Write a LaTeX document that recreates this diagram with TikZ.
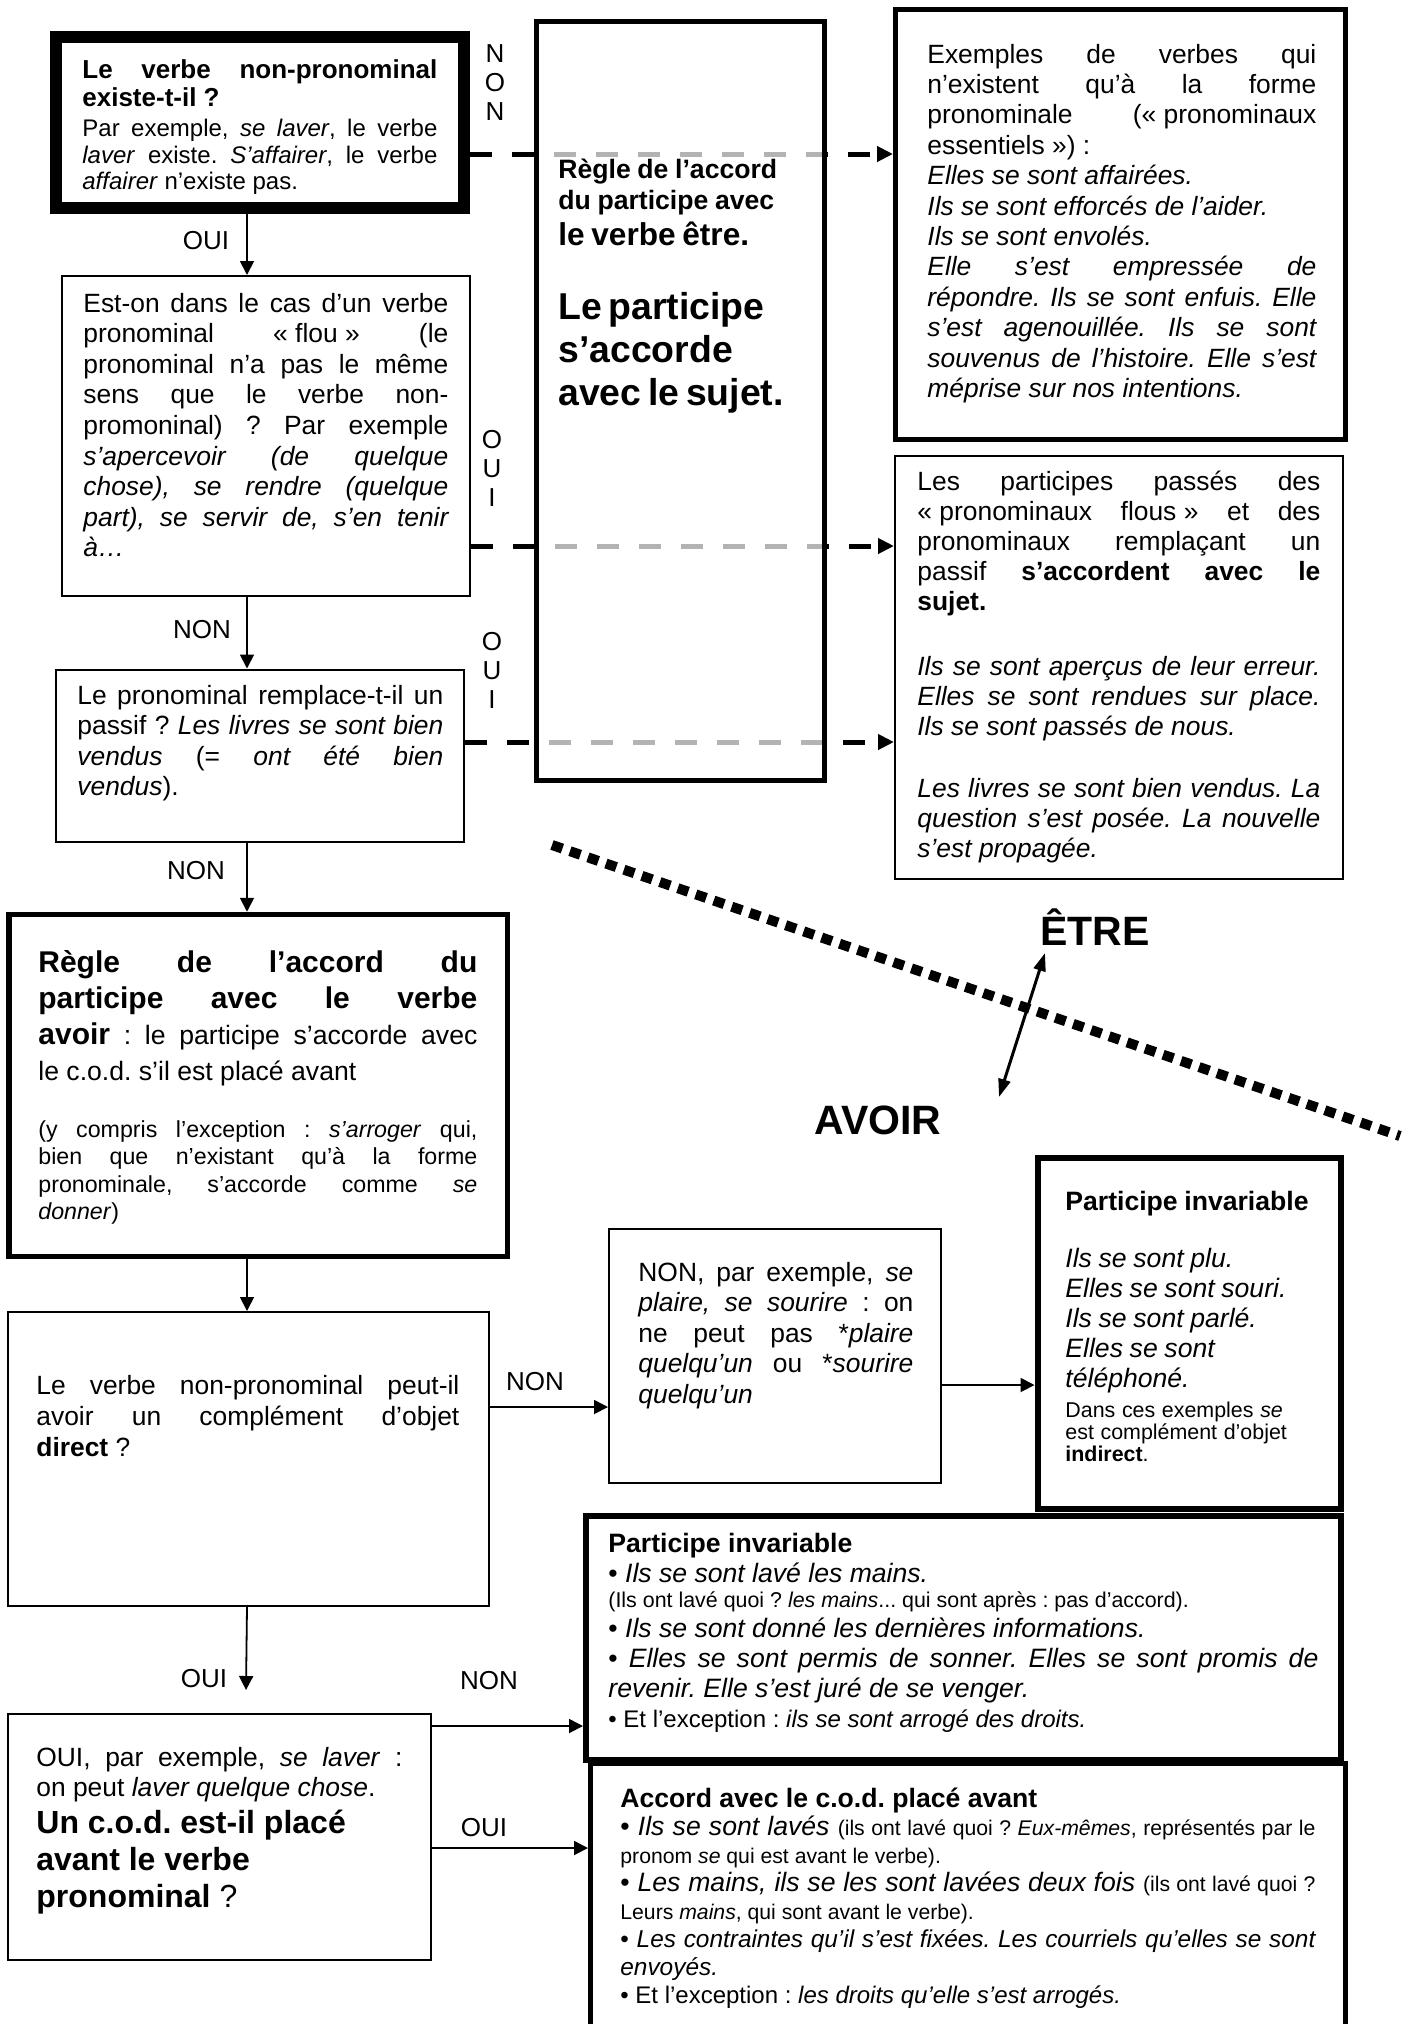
\documentclass[tikz,border=0pt]{standalone}
\usepackage{fontspec}
\setmainfont{Liberation Sans}
\usetikzlibrary{arrows.meta,fit}
\newcommand\fsz[2]{\fontsize{#1}{#2}\selectfont}
\newcommand\fq{\nobreak\hspace{0.28em}\nobreak}
\hyphenpenalty=10000
\exhyphenpenalty=10000
\tolerance=9999
\frenchspacing
\begin{document}
\begin{tikzpicture}[x=0.5pt,y=-0.5pt,
  bx/.style={draw, inner sep=0pt, rectangle},
  thinbox/.style={bx, line width=1pt},
  txt/.style={inner sep=0pt, anchor=base west, align=justify},
  txtl/.style={inner sep=0pt, anchor=base west, align=left},
  arr/.style={line width=0.9pt, -{Triangle[length=7pt,width=7pt]}},
  darr/.style={line width=2.5pt, dash pattern=on 11pt off 10pt, -{Triangle[length=8pt,width=7.5pt]}},
  lbl/.style={inner sep=0pt, font=\fsz{13}{14.5}, align=center},
  bigword/.style={inner sep=0pt, font=\fsz{20.5}{24}\bfseries},
]
\useasboundingbox (0,0) rectangle (1412,2024);
\fill[white] (0,0) rectangle (1412,2024);

% ---------- top left question
\node[bx, line width=6pt, fit={(56,37) (464,208)}] (A) {};
\node[txt, text width=177.5pt] (Atx) at (82,78) {\fsz{13}{14}\bfseries Le verbe non-pronominal \linebreak existe-t-il ?\par\vspace{2.2pt}\fsz{12}{13.25}\mdseries Par exemple, \textit{se laver}, le verbe \linebreak \textit{laver} existe. \textit{S’affairer}, le verbe \linebreak \textit{affairer} n’existe pas.\par};

\node[thinbox, fit={(62,276) (470,596)}] (L2) {};
\node[txt, text width=182.5pt] (L2tx) at (83,312) {\fsz{13.2}{15.3}Est-on dans le cas d’un verbe \linebreak pronominal «\fq flou\fq» (le \linebreak pronominal n’a pas le même \linebreak sens que le verbe non-\linebreak promoninal)~? Par exemple \linebreak \textit{s’apercevoir (de quelque \linebreak chose), se rendre (quelque \linebreak part), se servir de, s’en tenir \linebreak à…}\par};

\node[thinbox, fit={(56,669.5) (464,842)}] (L3) {};
\node[txt, text width=183pt] (L3tx) at (77,704) {\fsz{13.2}{15.3}Le pronominal remplace-t-il un \linebreak passif~? \textit{Les livres se sont bien} \linebreak \textit{vendus} (= \textit{ont été bien} \linebreak \textit{vendus}).\par};

% ---------- right boxes (être)
\node[bx, line width=2.5pt, fit={(895.5,9.5) (1345.5,439.5)}] (R1) {};
\node[txt, text width=194.5pt] (R1tx) at (927,63) {\fsz{13.2}{15.2}Exemples de verbes qui \linebreak n’existent qu’à la forme \linebreak pronominale («\fq pronominaux \linebreak essentiels\fq») :\par\itshape Elles se sont affairées.\par Ils se sont efforcés de l’aider.\par Ils se sont envolés.\par Elle s’est empressée de \linebreak répondre. Ils se sont enfuis. Elle \linebreak s’est agenouillée. Ils se sont \linebreak souvenus de l’histoire. Elle s’est \linebreak méprise sur nos intentions.\par};

\node[thinbox, fit={(895,456) (1343,879)}] (R2) {};
\node[txt, text width=201.5pt] (R2tx) at (917,490) {\fsz{13.2}{15}Les participes passés des \linebreak «\fq pronominaux flous\fq» et des \linebreak pronominaux remplaçant un \linebreak passif \textbf{s’accordent avec le \linebreak sujet.}\par\vspace{17.5pt}\itshape Ils se sont aperçus de leur erreur. \linebreak Elles se sont rendues sur place. \linebreak Ils se sont passés de nous.\par\vspace{16pt}Les livres se sont bien vendus. La \linebreak question s’est posée. La nouvelle \linebreak s’est propagée.\par};

% ---------- dashed connectors through the middle box
\coordinate (ya) at (0,154);
\coordinate (yb) at (0,546);
\coordinate (yc) at (0,742);
\draw[darr] (A.east |- ya) -- (R1.west |- ya);
\draw[darr] (L2.east |- yb) -- (R2.west |- yb);
\draw[darr] (L3.east |- yc) -- (R2.west |- yc);

\node[bx, line width=2.5pt, fill=white, fill opacity=0.7, fit={(536.5,21.5) (824.5,780)}] (M) {};
\node[txtl, text width=132.5pt] (Mtx) at (558,178) {{\fsz{13.3}{15.5}\bfseries Règle de l’accord\\du participe avec\par}{\fsz{15.8}{18}\bfseries le verbe être.\par}\vspace{15.5pt}{\fsz{18.7}{21.5}\bfseries Le participe\\s’accorde\\avec le sujet.\par}};

\node[lbl] (lnonA) at (495,83) {N\\O\\N};
\node[lbl] (louiB) at (492,468) {O\\U\\I};
\node[lbl] (louiC) at (492,670) {O\\U\\I};

% ---------- left column arrows
\coordinate (colx) at (247,0);
\draw[arr] (A.south -| colx) -- (L2.north -| colx);
\node[lbl] (l1) at (206,241) {OUI};
\draw[arr] (L2.south -| colx) -- (L3.north -| colx);
\node[lbl] (l2) at (202,630) {NON};

% ---------- avoir rule
\node[bx, line width=2.75pt, fit={(9,914.5) (507.5,1256.5)}] (B) {};
\node[txt, text width=219.5pt] (Btx) at (38,972) {\fsz{15}{18}\bfseries Règle de l’accord du \linebreak participe avec le verbe \linebreak avoir\mdseries\fsz{13.3}{18} : le participe s’accorde avec \linebreak le c.o.d. s’il est placé avant\par\vspace{14.75pt}\fsz{11.6}{13.75}(y compris l'exception : \textit{s'arroger} qui, \linebreak bien que n’existant qu’à la forme \linebreak pronominale, s’accorde comme \textit{se} \linebreak \textit{donner})\par};
\draw[arr] (L3.south -| colx) -- (B.north -| colx);
\node[lbl] (l3) at (196,871) {NON};

% ---------- COD question
\node[thinbox, fit={(8,1312) (489,1606)}] (C) {};
\node[txt, text width=211.5pt] (Ctx) at (36,1394) {\fsz{13.2}{15.5}Le verbe non-pronominal peut-il \linebreak avoir un complément d’objet \linebreak \textbf{direct} ?\par};
\draw[arr] (B.south -| colx) -- (C.north -| colx);
\coordinate (ctip) at (246,1690);
\draw[arr] (C.south -| colx) -- (ctip);
\node[lbl] (l4) at (204,1679) {OUI};

\node[thinbox, fit={(8,1714) (430.5,1960)}] (D) {};
\node[txt, text width=183pt] (Dtx) at (36,1766) {\fsz{13.2}{15}OUI, par exemple, \textit{se laver}~: \linebreak on peut \textit{laver quelque chose}.\par\fsz{16}{18.5}\bfseries Un c.o.d. est-il placé\\avant le verbe\\pronominal {\mdseries ?}\par};

% ---------- NON branch
\node[thinbox, fit={(609,1229) (941,1483)}] (N) {};
\node[txt, text width=137.5pt] (Ntx) at (638,1281) {\fsz{13.2}{15.25}NON, par exemple, \textit{se} \linebreak \textit{plaire, se sourire} : on \linebreak ne peut pas *\textit{plaire} \linebreak \textit{quelqu’un} ou *\textit{sourire} \linebreak \textit{quelqu’un}\par};
\coordinate (yd) at (0,1407);
\draw[arr] (C.east |- yd) -- (N.west |- yd);
\node[lbl] (l5) at (535,1382) {NON};

\node[bx, line width=3pt, fit={(1037.5,1157.5) (1341,1509)}] (P) {};
\node[txtl, text width=132pt] (Ptx) at (1065,1210) {\fsz{13.3}{15}\bfseries Participe invariable\par\vspace{13.5pt}\mdseries\itshape Ils se sont plu.\\Elles se sont souri.\\Ils se sont parlé.\\Elles se sont\\téléphoné.\par\vspace{4pt}\upshape\fsz{10.7}{11}Dans ces exemples \textit{se}\\est complément d’objet\\\textbf{indirect}.\par};
\coordinate (ye) at (0,1385);
\draw[arr] (N.east |- ye) -- (P.west |- ye);

% ---------- bottom result boxes
\node[bx, line width=3pt, fit={(586,1515.5) (1341,1759.5)}] (E) {};
\node[txt, text width=355pt] (Etx) at (608,1552) {\fsz{13.3}{15}\bfseries Participe invariable\par\mdseries • \textit{Ils se sont lavé les mains.}\par\fsz{10.7}{12.5}(Ils ont lavé quoi ? \textit{les mains}... qui sont après : pas d’accord).\par\fsz{13.3}{15}• \textit{Ils se sont donné les dernières informations.}\par • \textit{Elles se sont permis de sonner. Elles se sont promis de \linebreak revenir. Elle s’est juré de se venger.}\par\fsz{12}{15}• Et l'exception : \textit{ils se sont arrogé des droits.}\par};

\node[bx, line width=2.5pt, fit={(590.5,1763.5) (1345.5,2080)}] (F) {};
\node[txt, text width=347.5pt] (Ftx) at (620,1807) {\fsz{13.3}{14}\bfseries Accord avec le c.o.d. placé avant\par\mdseries • \textit{Ils se sont lavés} {\fsz{10.6}{14}(ils ont lavé quoi ? \textit{Eux-mêmes}, représentés par le \linebreak pronom \textit{se} qui est avant le verbe).}\par • \textit{Les mains, ils se les sont lavées deux fois} {\fsz{10.6}{14}(ils ont lavé quoi ? \linebreak Leurs \textit{mains}, qui sont avant le verbe).}\par{\fsz{12.2}{14}• \textit{Les contraintes qu’il s’est fixées. Les courriels qu’elles se sont \linebreak envoyés.}\par}\fsz{12}{14}• Et l'exception : \textit{les droits qu'elle s'est arrogés.}\par};

\coordinate (yf) at (0,1726);
\coordinate (yg) at (0,1848);
\draw[arr] (D.east |- yf) -- (E.west |- yf);
\draw[arr] (D.east |- yg) -- (F.west |- yg);
\node[lbl] (l6) at (489,1681) {NON};
\node[lbl] (l7) at (484,1828) {OUI};

% ---------- être / avoir divide
\coordinate (dg1) at (552,845);
\coordinate (dg2) at (1400,1136);
\draw[line width=5pt, dash pattern=on 5.5pt off 4pt] (dg1) -- (dg2);
\coordinate (ar1) at (1045,953);
\coordinate (ar2) at (999,1097);
\draw[line width=1.5pt, {Triangle[length=9pt,width=6pt]}-{Triangle[length=9pt,width=6pt]}] (ar2) -- (ar1);
\node[bigword] (etre) at (1095,927) {ÊTRE};
\node[bigword] (avoir) at (878,1120) {AVOIR};
\end{tikzpicture}
\end{document}
